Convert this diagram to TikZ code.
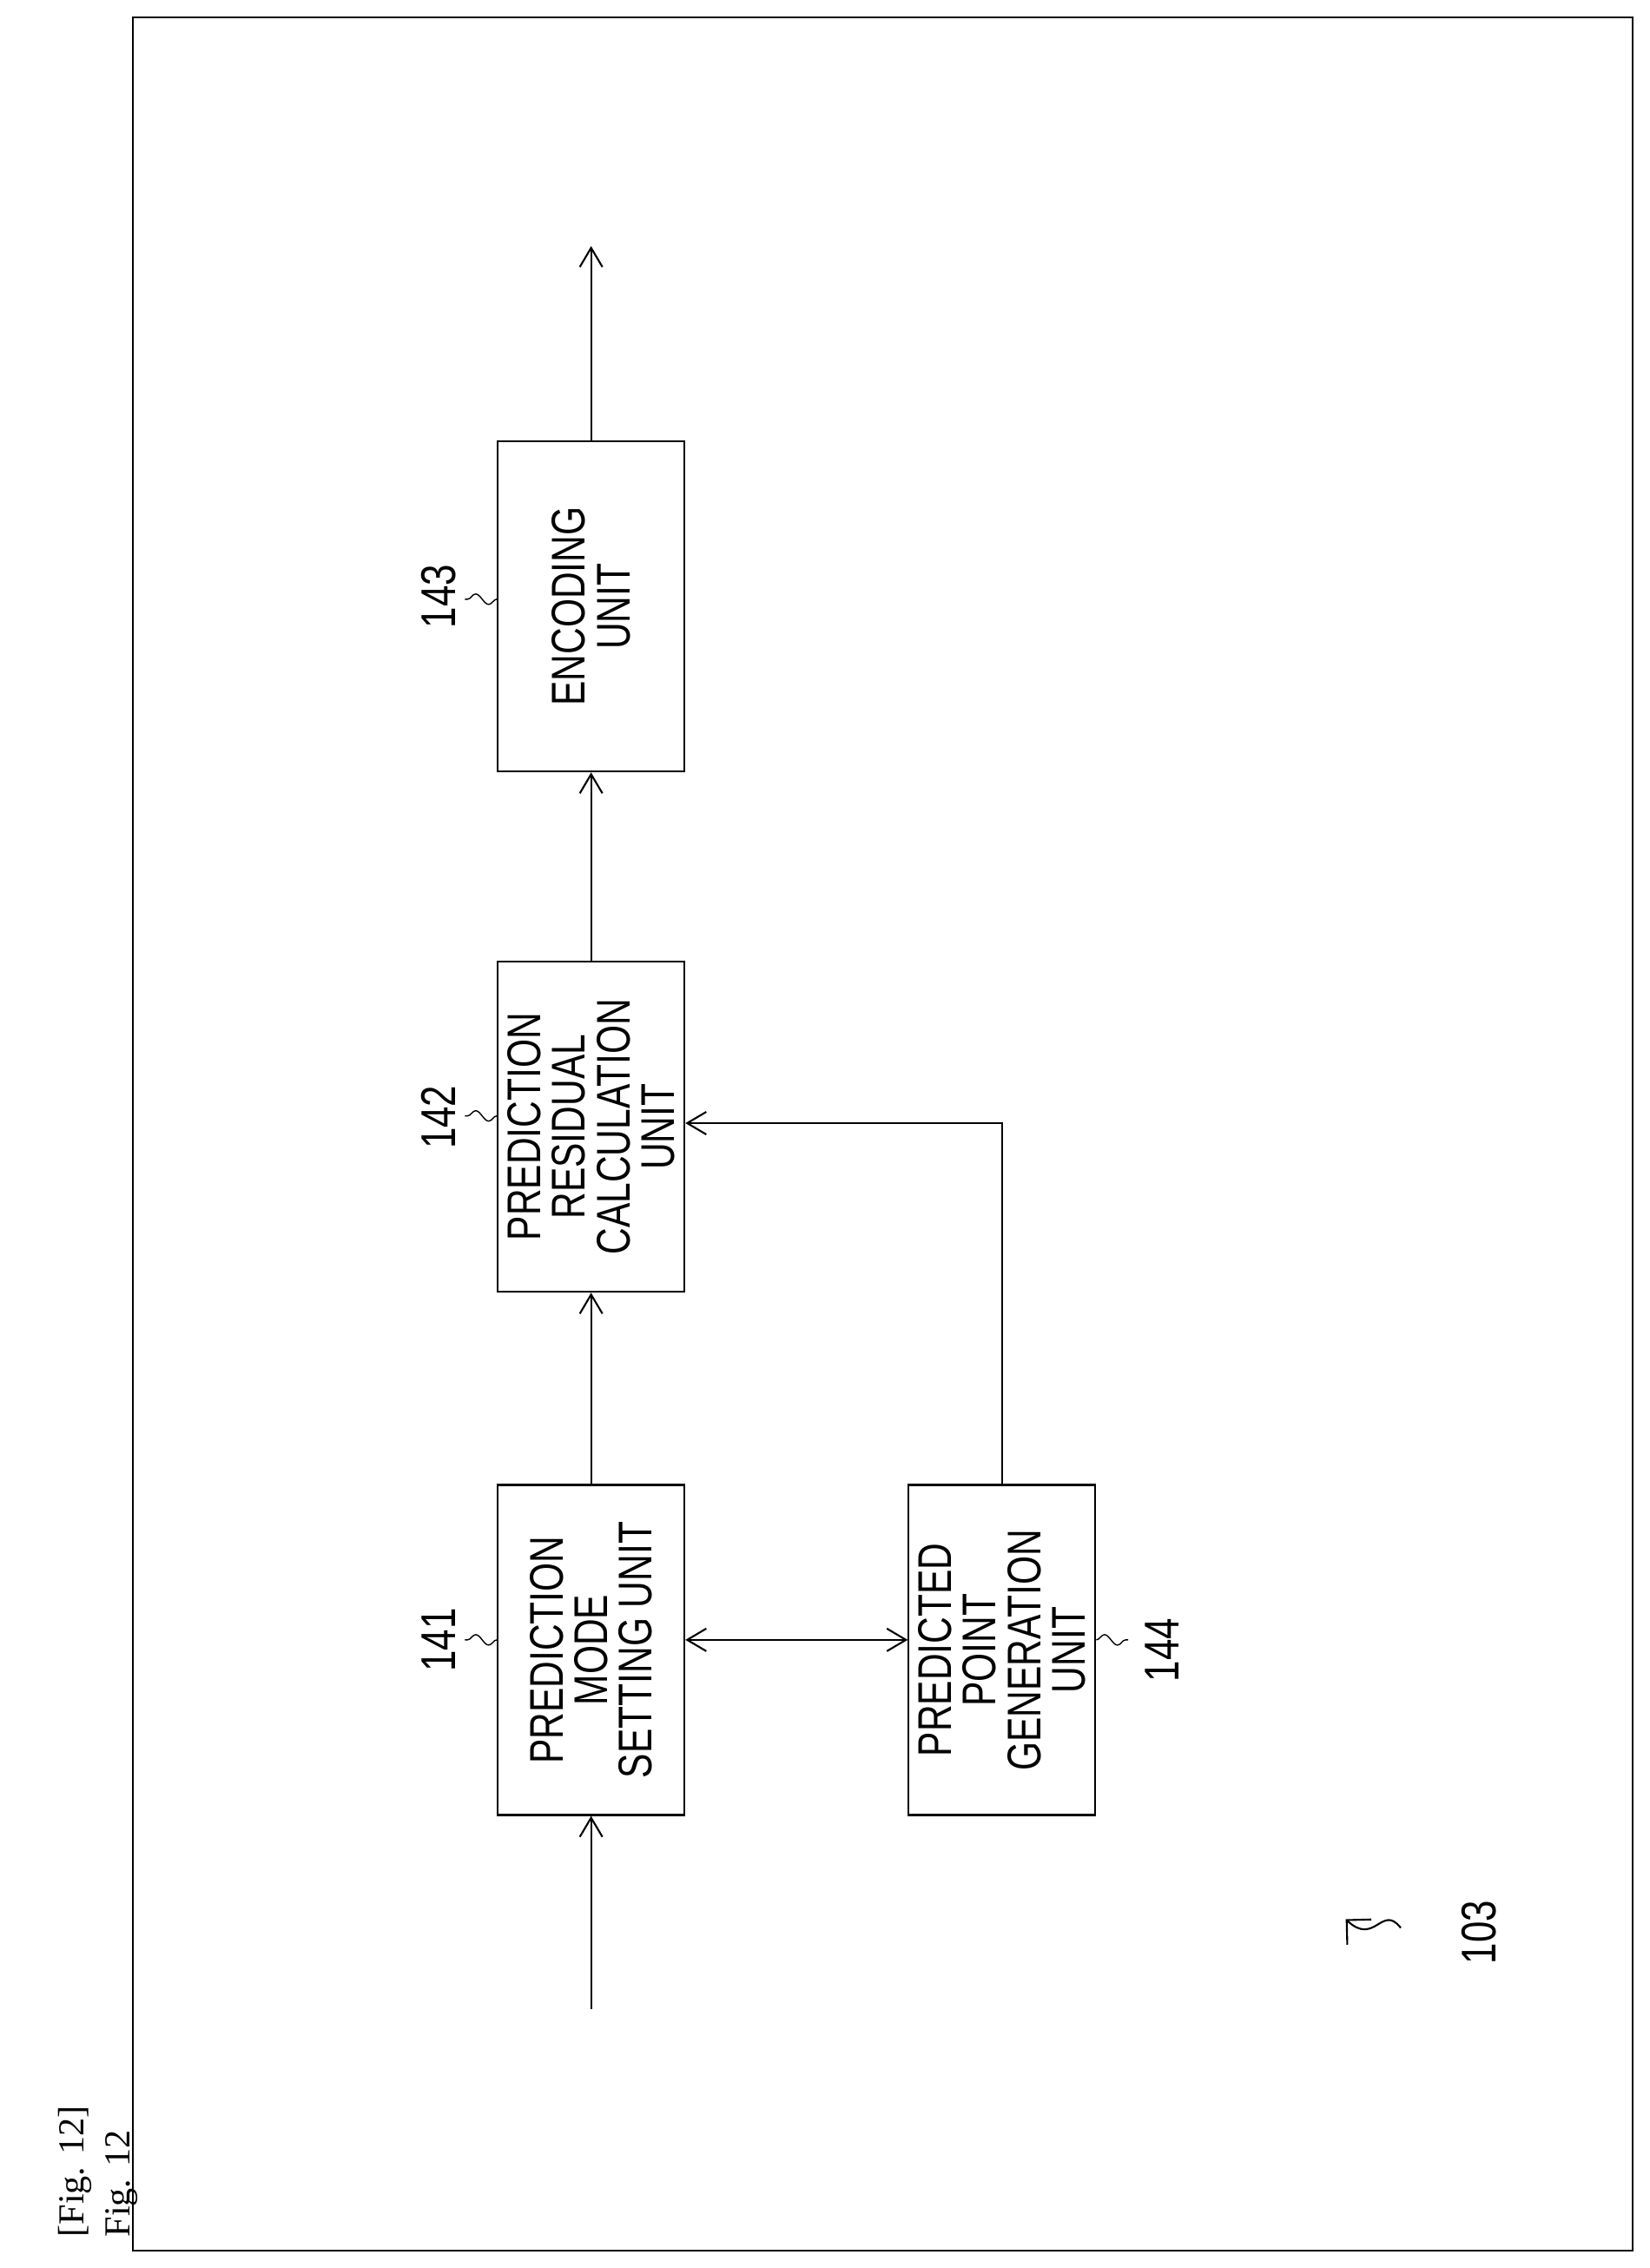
\documentclass[tikz,border=0pt]{standalone}
\usepackage{fontspec}
\setmainfont{Liberation Serif}
\newfontfamily\narrowsf[FakeStretch=0.78]{Liberation Sans}
\usetikzlibrary{arrows.meta,decorations.pathmorphing}

\tikzset{
    unit/.style={draw, semithick, rotate=90, minimum width=3.8cm, minimum height=2.15cm,
        inner sep=1pt, align=center, font=\narrowsf\fontsize{15.5}{14.6}\selectfont},
    ref/.style={rotate=90, font=\narrowsf\fontsize{16}{17}\selectfont},
    flow/.style={-{Straight Barb[length=2.2mm,width=2.6mm]}, semithick},
    squig/.style={decorate, decoration={snake, amplitude=0.6mm, segment length=3mm}, thin}
}

\begin{document}
\begin{tikzpicture}[x=0.01666cm, y=-0.01666cm]
    \useasboundingbox (0,0) rectangle (1140,1567);
    \draw[semithick] (92,12) rectangle (1128,1555);
    \node[ref, align=left, anchor=north west, inner sep=0pt, font=\fontsize{12}{14}\selectfont] (fig) at (40,1546) {[Fig. 12]\\[1pt]Fig. 12};

    \node[unit] (enc) at (408.5,419) {ENCODING\\UNIT};
    \node[unit] (res) at (408.5,778.5) {PREDICTION\\RESIDUAL\\CALCULATION\\UNIT};
    \node[unit] (mode) at (408.5,1140) {PREDICTION\\MODE\\SETTING UNIT};
    \node[unit] (gen) at (692.5,1140) {PREDICTED\\POINT\\GENERATION\\UNIT};

    \coordinate (in) at (408.5,1388);
    \coordinate (out) at (408.5,170);
    \coordinate (bend) at (692.5,776);

    \draw[flow] (in) -- (mode);
    \draw[flow] (mode) -- (res);
    \draw[flow] (res) -- (enc);
    \draw[flow] (enc) -- (out);
    \draw[flow, {Straight Barb[length=2.2mm,width=2.6mm]}-{Straight Barb[length=2.2mm,width=2.6mm]}] (mode.south |- 0,1133) -- (gen.north |- 0,1133);
    \draw[flow] (gen.east -| bend) -- (bend) -- (res.south |- bend);

    % reference numerals
    \node[ref] (n143) at (303,412) {143};
    \node[ref] (n142) at (303,772) {142};
    \node[ref] (n141) at (303,1133) {141};
    \node[ref] (n144) at (803,1140) {144};
    \draw[squig] (enc.north) ++(0,-5) -- ++(-22,0);
    \draw[squig] (res.north |- 0,771) -- ++(-22,0);
    \draw[squig] (mode.north |- 0,1133) -- ++(-22,0);
    \draw[squig] (gen.south |- 0,1133) -- ++(22,0);

    \node[ref] (n103) at (1022,1335) {103};
    \draw[semithick, -{Straight Barb[length=2mm]}] (968,1332) .. controls (955,1315) and (950,1345) .. (930,1326);
\end{tikzpicture}
\end{document}
